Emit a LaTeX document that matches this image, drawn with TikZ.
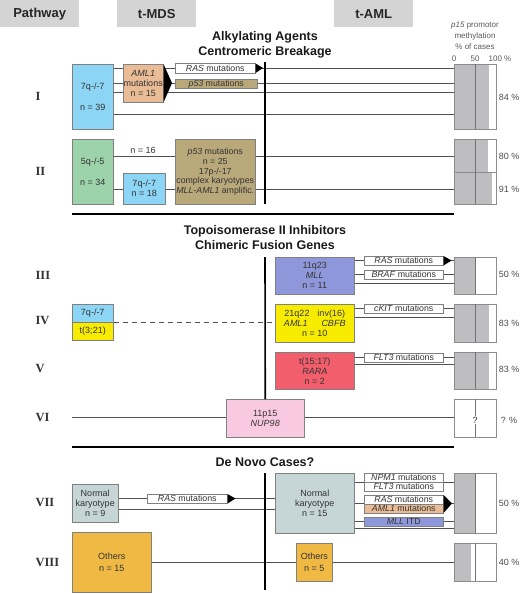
\documentclass[tikz,border=0pt]{standalone}
\usepackage{fontspec}
\setmainfont{Liberation Sans}
\newfontfamily\romfont{Liberation Serif}
\usetikzlibrary{arrows.meta}
\pgfdeclarelayer{bg}
\pgfsetlayers{bg,main}
\definecolor{hdrgray}{HTML}{D4D4D4}
\definecolor{cblue}{HTML}{8DD5F5}
\definecolor{cpeach}{HTML}{E9BC96}
\definecolor{ckhaki}{HTML}{B9A87A}
\definecolor{cgreen}{HTML}{9CD3AA}
\definecolor{cpurple}{HTML}{8E97D9}
\definecolor{cyellow}{HTML}{F7EC00}
\definecolor{cred}{HTML}{F25E6B}
\definecolor{cpink}{HTML}{F9C9E1}
\definecolor{cteal}{HTML}{C6D6D6}
\definecolor{corange}{HTML}{F0B944}
\definecolor{cbar}{HTML}{BEBEC0}
\definecolor{txt}{HTML}{333333}
\definecolor{ln}{HTML}{505050}
\tikzset{
 bx/.style={draw=black!50, line width=0.5pt, inner sep=0pt, anchor=north west, align=center, text=txt, font=\fontsize{9}{10}\selectfont},
 tag/.style={bx, fill=white, minimum width=79pt, minimum height=9pt, font=\fontsize{8.8}{9}\selectfont},
 conn/.style={draw=ln, line width=0.8pt},
 sepline/.style={line width=2pt, black},
 vline/.style={line width=1.6pt, black},
 hdr/.style={fill=hdrgray, inner sep=0pt, anchor=north west, minimum height=27pt, minimum width=79pt, font=\bfseries\fontsize{13}{14}\selectfont, text=black!85},
 ttl/.style={font=\bfseries\fontsize{12.5}{15}\selectfont, align=center, text=black!90},
 pct/.style={font=\fontsize{9}{10}\selectfont, text=black!70},
 rom/.style={font=\romfont\bfseries\fontsize{12.5}{14}\selectfont, anchor=west, text=black!80},
 axl/.style={font=\fontsize{8}{11}\selectfont, text=black!65, align=center}
}
\newcommand\pfbar[4]{%
 \fill[cbar] (454,#2) rectangle ({454+0.42*#4},#3);
 \node[draw=black!45, line width=0.5pt, inner sep=0pt, anchor=north west, minimum width=42pt, minimum height={#3-#2}] (#1) at (454,#2) {};
 \draw[black!55, line width=0.5pt] (475,#2) -- (475,#3);
}
\begin{document}
\begin{tikzpicture}[x=1pt,y=-1pt]
\useasboundingbox (0,0) rectangle (520,594);
% headers
\node[hdr] (hp) at (0,0) {Pathway};
\node[hdr] (hm) at (117,0) {t-MDS};
\node[hdr] (ha) at (334,0) {t-AML};
% titles
\node[ttl] (t1) at (265,44.5) {Alkylating Agents\\Centromeric Breakage};
\node[ttl] (t2) at (265,238) {Topoisomerase II Inhibitors\\Chimeric Fusion Genes};
\node[ttl] (t3) at (265,462) {De Novo Cases?};
% p15 header
\node[axl] (p15) at (475,36) {\textit{p15} promotor\\methylation\\\% of cases};
\node[axl] (ax0) at (454,59) {0};
\node[axl] (ax50) at (475,59) {50};
\node[axl] (ax100) at (500,59) {100 \%};
% roman numerals
\node[rom] (r1) at (32,96) {I};
\node[rom] (r2) at (32,171) {II};
\node[rom] (r3) at (32,275) {III};
\node[rom] (r4) at (32,320) {IV};
\node[rom] (r5) at (32,368) {V};
\node[rom] (r6) at (32,417) {VI};
\node[rom] (r7) at (32,502) {VII};
\node[rom] (r8) at (32,562) {VIII};

% ===== Section I
\node[bx, fill=cblue, minimum width=41pt, minimum height=65pt] (s1a) at (72,64) {7q-/-7\\[11pt]n = 39};
\node[bx, fill=cpeach, minimum width=40pt, minimum height=38pt] (s1b) at (123,64) {\textit{AML1}\\mutations\\n = 15};
\coordinate (s1tip) at (172,83);
\fill (s1b.north east) -- (s1tip) -- (s1b.south east) -- cycle;
\node[tag, minimum width=80pt] (s1ras) at (175,63.5) {\textit{RAS} mutations};
\fill (s1ras.north east) -- ++(7.5,4.5) -- (s1ras.south east) -- cycle;
\node[tag, fill=ckhaki, minimum width=82pt] (s1p53) at (175,79) {\textit{p53} mutations};
\pfbar{b1}{64}{129}{84}
\node[pct] (pc1) at (509,97) {84 \%};
\begin{pgfonlayer}{bg}
\draw[conn] (s1a.east|-0,68) -- (b1.west|-0,68);
\draw[conn] (s1a.east|-0,83) -- (b1.west|-0,83);
\draw[conn] (s1a.east|-0,92) -- (b1.west|-0,92);
\draw[conn] (s1a.east|-0,114) -- (b1.west|-0,114);
\end{pgfonlayer}

% ===== Section II
\node[bx, fill=cgreen, minimum width=41pt, minimum height=65pt] (s2a) at (72,139) {5q-/-5\\[11pt]n = 34};
\node[bx, fill=cblue, minimum width=42pt, minimum height=31pt] (s2b) at (123,173) {7q-/-7\\n = 18};
\node[bx, fill=ckhaki, minimum width=80pt, minimum height=65pt, font=\fontsize{8.8}{9.8}\selectfont] (s2c) at (175,139) {\textit{p53} mutations\\n = 25\\17p-/-17\\complex karyotypes\\\textit{MLL-AML1} amplific.};
\node[font=\fontsize{9}{10}\selectfont, text=txt] (n16) at (143,150) {n = 16};
\pfbar{b2a}{139}{172}{80}
\pfbar{b2b}{172}{204}{91}
\node[pct] (pc2a) at (509,156) {80 \%};
\node[pct] (pc2b) at (509,189) {91 \%};
\begin{pgfonlayer}{bg}
\draw[conn] (s2a.east|-0,156) -- (b2a.west|-0,156);
\draw[conn] (s2a.east|-0,189) -- (b2b.west|-0,189);
\end{pgfonlayer}
\draw[vline] (265,62) -- (265,204);
\draw[sepline] (72,214) -- (454,214);

% ===== Section III
\node[bx, fill=cpurple, minimum width=79pt, minimum height=37pt] (s3) at (275,257) {11q23\\\textit{MLL}\\n = 11};
\node[tag] (s3ras) at (364,256) {\textit{RAS} mutations};
\fill (s3ras.north east) -- ++(8,4.5) -- (s3ras.south east) -- cycle;
\node[tag] (s3braf) at (364,269.5) {\textit{BRAF} mutations};
\pfbar{b3}{257}{294}{50}
\node[pct] (pc3) at (509,274) {50 \%};
\begin{pgfonlayer}{bg}
\draw[conn] (s3.east|-0,260.5) -- (b3.west|-0,260.5);
\draw[conn] (s3.east|-0,274) -- (b3.west|-0,274);
\draw[conn] (s3.east|-0,283) -- (b3.west|-0,283);
\end{pgfonlayer}

% ===== Section IV
\node[bx, fill=cblue, minimum width=41pt, minimum height=18pt] (s4a) at (72,304) {7q-/-7};
\node[bx, fill=cyellow, minimum width=41pt, minimum height=18pt] (s4b) at (72,322) {t(3;21)};
\node[bx, fill=cyellow, minimum width=79pt, minimum height=38pt] (s4) at (275,304) {21q22\hspace{8pt}inv(16)\\\textit{AML1}\hspace{14pt}\textit{CBFB}\\n = 10};
\node[tag] (s4kit) at (364,303.5) {\textit{cKIT} mutations};
\pfbar{b4}{304}{342}{83}
\node[pct] (pc4) at (509,323) {83 \%};
\begin{pgfonlayer}{bg}
\draw[conn, dash pattern=on 5pt off 4pt] (s4b.north east) -- (s4.west|-s4b.north east);
\draw[conn] (s4.east|-0,308) -- (b4.west|-0,308);
\draw[conn] (s4.east|-0,317) -- (b4.west|-0,317);
\end{pgfonlayer}

% ===== Section V
\node[bx, fill=cred, minimum width=79pt, minimum height=37pt] (s5) at (275,352) {t(15;17)\\\textit{RARA}\\n = 2};
\node[tag] (s5flt) at (364,352.5) {\textit{FLT3} mutations};
\pfbar{b5}{352}{389}{83}
\node[pct] (pc5) at (509,369) {83 \%};
\begin{pgfonlayer}{bg}
\draw[conn] (s5.east|-0,357) -- (b5.west|-0,357);
\draw[conn] (s5.east|-0,364) -- (b5.west|-0,364);
\end{pgfonlayer}

% ===== Section VI
\coordinate (c6) at (72,417);
\node[bx, fill=cpink, minimum width=78pt, minimum height=38pt] (s6) at (226,399) {11p15\\\textit{NUP98}};
\pfbar{b6}{399}{437}{0}
\node[fill=white, inner sep=1pt, font=\fontsize{9}{10}\selectfont, text=txt] (q6) at (475,420) {?};
\node[pct] (pc6) at (509,420) {? \%};
\begin{pgfonlayer}{bg}
\draw[conn] (c6) -- (b6.west|-c6);
\end{pgfonlayer}
\draw[vline] (265,257) -- (s6.north);
\draw[sepline] (72,447) -- (454,447);

% ===== Section VII
\node[bx, fill=cteal, minimum width=46pt, minimum height=38pt] (s7a) at (72,484) {Normal\\karyotype\\n = 9};
\node[tag, minimum width=80pt] (s7ras) at (147,494) {\textit{RAS} mutations};
\fill (s7ras.north east) -- ++(8,4.5) -- (s7ras.south east) -- cycle;
\node[bx, fill=cteal, minimum width=79pt, minimum height=60pt] (s7b) at (275,473) {Normal\\karyotype\\n = 15};
\node[tag] (s7npm) at (364,473) {\textit{NPM1} mutations};
\node[tag] (s7flt) at (364,482) {\textit{FLT3} mutations};
\node[tag] (s7ras2) at (364,495) {\textit{RAS} mutations};
\node[tag, fill=cpeach] (s7aml) at (364,503.5) {\textit{AML1} mutations};
\fill (s7ras2.north east) -- (452,503.5) -- (s7aml.south east) -- cycle;
\node[tag, fill=cpurple] (s7mll) at (364,516.5) {\textit{MLL} ITD};
\pfbar{b7}{473}{533}{50}
\node[pct] (pc7) at (509,503) {50 \%};
\begin{pgfonlayer}{bg}
\draw[conn] (s7a.east|-0,498) -- (s7b.west|-0,498);
\draw[conn] (s7a.east|-0,509) -- (s7b.west|-0,509);
\draw[conn] (s7b.east|-0,482) -- (b7.west|-0,482);
\draw[conn] (s7b.east|-0,503.5) -- (b7.west|-0,503.5);
\draw[conn] (s7b.east|-0,521) -- (b7.west|-0,521);
\draw[conn] (s7b.east|-0,528) -- (b7.west|-0,528);
\end{pgfonlayer}

% ===== Section VIII
\node[bx, fill=corange, minimum width=79pt, minimum height=60pt] (s8a) at (72,532) {Others\\[2pt]n = 15};
\node[bx, fill=corange, minimum width=36pt, minimum height=38pt] (s8b) at (296,543) {Others\\[2pt]n = 5};
\pfbar{b8}{543}{581}{40}
\node[pct] (pc8) at (509,562) {40 \%};
\begin{pgfonlayer}{bg}
\draw[conn] (s8a.east|-0,562) -- (b8.west|-0,562);
\end{pgfonlayer}
\draw[vline] (265,473) -- (265,590);
\end{tikzpicture}
\end{document}
